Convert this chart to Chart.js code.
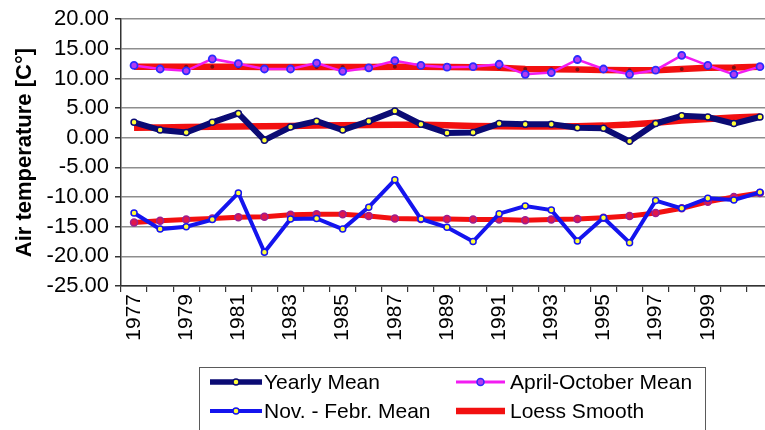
<!DOCTYPE html>
<html>
<head>
<meta charset="utf-8">
<script src="https://cdn.jsdelivr.net/npm/chart.js@4/dist/chart.umd.min.js"></script>
<style>
  html, body { margin: 0; padding: 0; background: #fff; overflow: hidden; }
  #wrap { width: 765px; height: 430px; overflow: hidden; position: relative; }
  canvas { display: block; }
</style>
</head>
<body>
<div id="wrap"><canvas id="c" width="790" height="450" style="width:790px;height:450px"></canvas></div>
<script>
// Years on the category axis
const years = ['1977','1978','1979','1980','1981','1982','1983','1984','1985','1986','1987','1988',
               '1989','1990','1991','1992','1993','1994','1995','1996','1997','1998','1999','2000','2001'];
// Years that carry a printed tick label
const tickYears = ['1977','1979','1981','1983','1985','1987','1989','1991','1993','1995','1997','1999'];

// Air temperature series, °C
const yearlyMean = [2.6, 1.3, 0.9, 2.6, 4.1, -0.4, 1.8, 2.8, 1.3, 2.8, 4.5, 2.3,
                    0.8, 0.9, 2.4, 2.3, 2.3, 1.7, 1.6, -0.6, 2.4, 3.7, 3.5, 2.4, 3.5];
const aprOctMean = [12.2, 11.6, 11.3, 13.3, 12.5, 11.6, 11.6, 12.6, 11.2, 11.8, 13.0, 12.2,
                    11.9, 12.0, 12.4, 10.7, 11.0, 13.2, 11.6, 10.7, 11.4, 13.9, 12.2, 10.7, 12.0];
const novFebMean = [-12.7, -15.4, -15.0, -13.8, -9.3, -19.3, -13.7, -13.6, -15.4, -11.7, -7.1, -13.7,
                    -15.1, -17.5, -12.8, -11.5, -12.2, -17.4, -13.5, -17.7, -10.6, -11.9, -10.2, -10.5, -9.2];

// Loess smooth curves for each series
const loessYearly = [1.7, 1.75, 1.8, 1.85, 1.9, 1.95, 2.0, 2.05, 2.1, 2.15, 2.2, 2.2,
                     2.1, 2.0, 1.95, 1.9, 1.9, 1.95, 2.05, 2.25, 2.55, 2.9, 3.15, 3.4, 3.6];
const loessAprOct = [12.0, 12.0, 12.0, 12.0, 12.0, 11.95, 11.95, 11.95, 11.95, 11.95, 12.0, 12.0,
                     11.95, 11.9, 11.8, 11.6, 11.55, 11.5, 11.45, 11.4, 11.4, 11.6, 11.8, 11.85, 12.0];
const loessNovFeb = [-14.3, -14.0, -13.8, -13.6, -13.4, -13.3, -13.0, -12.9, -12.9, -13.2, -13.6, -13.7,
                     -13.7, -13.8, -13.8, -13.9, -13.8, -13.7, -13.5, -13.2, -12.7, -11.9, -10.8, -10.0, -9.3];

const FONT = "'Liberation Sans', Arial, Helvetica, sans-serif";
const NAVY = '#0b0b74';
const BLUE = '#1414ee';
const MAGENTA = '#f21cf2';
const RED = '#f21010';
const YELLOW = '#ffff3a';

// Two-column boxed legend under the plot
const boxLegend = {
  id: 'boxLegend',
  afterDraw(chart) {
    const ctx = chart.ctx;
    const a = chart.chartArea;
    const left = 199, top = a.bottom + 81, width = 506, height = 72;
    ctx.save();
    ctx.strokeStyle = '#5a5a5a';
    ctx.lineWidth = 1;
    ctx.strokeRect(left + 0.5, top + 0.5, width, height);

    const rows = [a.bottom + 96, a.bottom + 125];
    const cols = [{x0: 210, x1: 262, tx: 264}, {x0: 456, x1: 505, tx: 510}];
    const items = [
      {text: 'Yearly Mean', color: NAVY, lw: 5.5, fill: YELLOW, stroke: NAVY, r: 3, col: 0, row: 0},
      {text: 'April-October Mean', color: MAGENTA, lw: 3, fill: '#b23cf0', stroke: '#2b2bff', r: 3.5, col: 1, row: 0},
      {text: 'Nov. - Febr. Mean', color: BLUE, lw: 4, fill: YELLOW, stroke: BLUE, r: 3, col: 0, row: 1},
      {text: 'Loess Smooth', color: RED, lw: 6.5, fill: null, col: 1, row: 1}
    ];
    ctx.font = '21px ' + FONT;
    ctx.textBaseline = 'middle';
    ctx.textAlign = 'left';
    items.forEach(it => {
      const c = cols[it.col], y = rows[it.row];
      ctx.strokeStyle = it.color;
      ctx.lineWidth = it.lw;
      ctx.beginPath();
      ctx.moveTo(c.x0, y);
      ctx.lineTo(c.x1, y);
      ctx.stroke();
      if (it.fill) {
        ctx.beginPath();
        ctx.arc((c.x0 + c.x1) / 2, y, it.r, 0, Math.PI * 2);
        ctx.fillStyle = it.fill;
        ctx.fill();
        ctx.lineWidth = 1.5;
        ctx.strokeStyle = it.stroke;
        ctx.stroke();
      }
      ctx.fillStyle = '#000';
      ctx.fillText(it.text, c.tx, y + 1);
    });
    ctx.restore();
  }
};

new Chart(document.getElementById('c'), {
  type: 'line',
  data: {
    labels: years,
    datasets: [
      {
        label: 'Yearly Mean', data: yearlyMean,
        borderColor: NAVY, borderWidth: 6,
        pointRadius: 3, pointBorderWidth: 1.5,
        pointBackgroundColor: YELLOW, pointBorderColor: NAVY
      },
      {
        label: 'April-October Mean', data: aprOctMean,
        borderColor: MAGENTA, borderWidth: 2.5,
        pointRadius: 3.5, pointBorderWidth: 1.8,
        pointBackgroundColor: '#b23cf0', pointBorderColor: '#2b2bff'
      },
      {
        label: 'Nov. - Febr. Mean', data: novFebMean,
        borderColor: BLUE, borderWidth: 4,
        pointRadius: 3, pointBorderWidth: 1.5,
        pointBackgroundColor: YELLOW, pointBorderColor: BLUE
      },
      {
        label: 'Loess Smooth', data: loessYearly,
        borderColor: RED, borderWidth: 6.5, pointRadius: 0
      },
      {
        label: 'Loess Smooth', data: loessAprOct,
        borderColor: RED, borderWidth: 6.5,
        pointRadius: 2, pointBorderWidth: 0,
        pointBackgroundColor: '#7a0f12', pointBorderColor: '#7a0f12'
      },
      {
        label: 'Loess Smooth', data: loessNovFeb,
        borderColor: RED, borderWidth: 5,
        pointRadius: 3.5, pointBorderWidth: 1.5,
        pointBackgroundColor: '#e0164c', pointBorderColor: '#9a2090'
      }
    ]
  },
  options: {
    responsive: false,
    animation: false,
    events: [],
    layout: { padding: { top: 15, right: 17, bottom: 100, left: 0 } },
    plugins: { legend: { display: false }, tooltip: { enabled: false } },
    elements: { line: { tension: 0 } },
    scales: {
      x: {
        offset: true,
        grid: { offset: true, drawOnChartArea: false, drawTicks: true, tickLength: 6, color: '#333', lineWidth: 1.2 },
        border: { display: true, color: '#333', width: 1.5 },
        ticks: {
          autoSkip: false, maxRotation: 90, minRotation: 90, padding: 2,
          color: '#000', font: { family: FONT, size: 21 },
          callback: function (v, i) { return tickYears.includes(years[i]) ? years[i] : ''; }
        },
        afterFit(scale) { scale.height = 64; }
      },
      y: {
        min: -25, max: 20,
        grid: { color: '#8e8e8e', lineWidth: 1.5, drawTicks: true, tickLength: 6, tickColor: '#333' },
        border: { display: true, color: '#333', width: 1.5 },
        ticks: {
          stepSize: 5, padding: 6, color: '#000', font: { family: FONT, size: 22 },
          callback: v => v.toFixed(2)
        },
        title: {
          display: true, text: 'Air temperature [C°]', color: '#000',
          font: { family: FONT, size: 22, weight: 'bold' }, padding: { top: 12, bottom: 0 }
        },
        afterFit(scale) { scale.width = 121; }
      }
    }
  },
  plugins: [boxLegend]
});
</script>
</body>
</html>
